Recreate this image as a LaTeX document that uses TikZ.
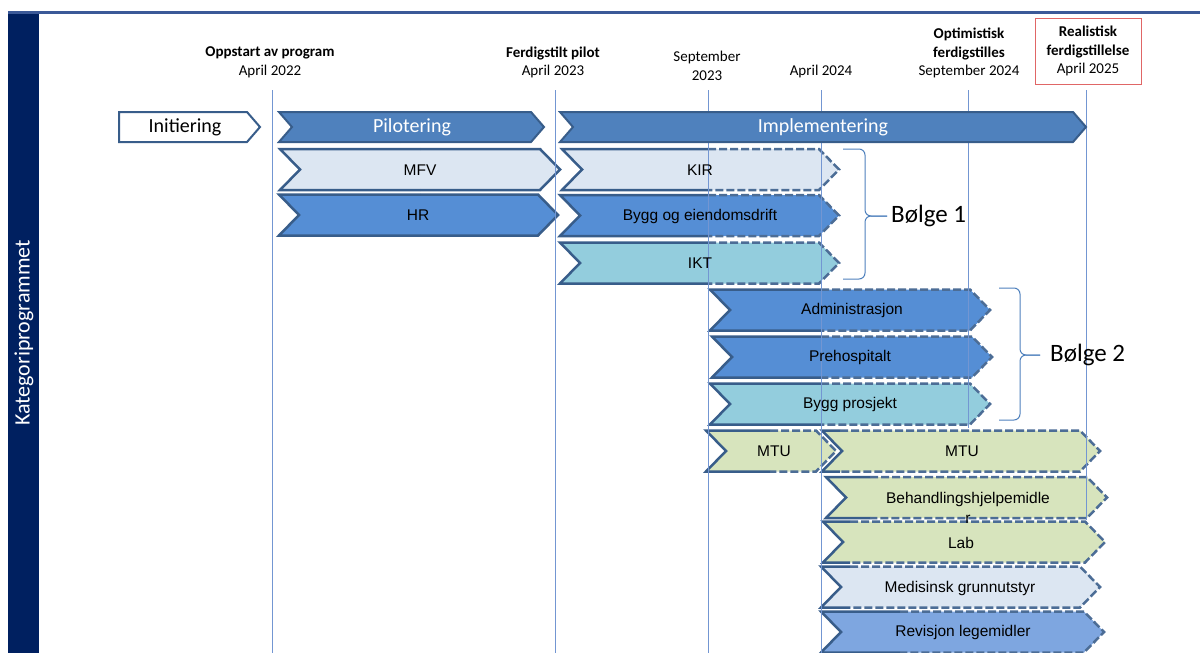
\documentclass[tikz,border=0pt]{standalone}
\usepackage{fontspec}
\setmainfont{Carlito}
\newfontfamily\arialfont{Liberation Sans}

\definecolor{barnavy}{RGB}{0,32,96}
\definecolor{topline}{RGB}{59,89,152}
\definecolor{chevedge}{RGB}{56,93,138}
\definecolor{pilotfill}{RGB}{79,129,189}
\definecolor{lightfill}{RGB}{220,230,242}
\definecolor{midfill}{RGB}{85,142,213}
\definecolor{tealfill}{RGB}{147,205,221}
\definecolor{greenfill}{RGB}{215,228,189}
\definecolor{revfill}{RGB}{126,166,224}
\definecolor{gridline}{RGB}{115,150,210}
\definecolor{redbox}{RGB}{224,102,102}
\definecolor{bracecol}{RGB}{79,129,189}

\tikzset{
  chevline/.style={draw=chevedge, line width=2.5pt},
  chevdash/.style={chevline, draw=chevedge!90, dash pattern=on 8pt off 3pt},
  datoline/.style={draw=gridline, line width=1pt},
  hdr/.style={align=center, font=\fontsize{15}{18.5}\selectfont, inner sep=0pt},
  fase/.style={font=\fontsize{20}{24}\selectfont},
  lbl/.style={font=\arialfont\fontsize{15.5}{20}\selectfont},
  bracel/.style={draw=bracecol, line width=1pt, rounded corners=6pt},
  bolge/.style={font=\fontsize{25}{30}\selectfont, anchor=west, inner sep=0pt}
}

\newcommand{\chevh}{20.5}
\newcommand{\chevd}{20}
% #1 left x, #2 tip x, #3 middle y, #4 fill, #5 x where the dashes start, #6 style of the right part
\newcommand{\chevshape}[6]{%
  \fill[#4] (#1,{#3-\chevh}) -- ({#2-\chevd},{#3-\chevh}) -- (#2,#3)
    -- ({#2-\chevd},{#3+\chevh}) -- (#1,{#3+\chevh}) -- ({#1+\chevd},#3) -- cycle;
  \draw[chevline] (#5,{#3-\chevh}) -- (#1,{#3-\chevh}) -- ({#1+\chevd},#3)
    -- (#1,{#3+\chevh}) -- (#5,{#3+\chevh});
  \draw[#6] (#5,{#3-\chevh}) -- ({#2-\chevd},{#3-\chevh}) -- (#2,#3)
    -- ({#2-\chevd},{#3+\chevh}) -- (#5,{#3+\chevh});
}

\begin{document}
\begin{tikzpicture}[x=1pt, y=-1pt]
\useasboundingbox (0,0) rectangle (1200,653);
\fill[white] (0,0) rectangle (1200,653);
\fill[barnavy] (8,12) rectangle (39,653);
\draw[topline, line width=2.5pt] (8,12.5) -- (1200,12.5);
\node[rotate=90, text=white, font=\fontsize{22}{26}\selectfont] (kategori) at (24,333) {Kategoriprogrammet};

% dates
\node[hdr] (oppstart) at (270,62.5) {\textbf{Oppstart av program}\\April 2022};
\node[hdr] (ferdigpilot) at (553,62.5) {\textbf{Ferdigstilt pilot}\\April 2023};
\node[hdr] (sep23) at (707,66) {September\\2023};
\node[hdr] (apr24) at (821,71.5) {April 2024};
\node[hdr] (optimistisk) at (969,53) {\textbf{Optimistisk}\\\textbf{ferdigstilles}\\September 2024};
\node[hdr, draw=redbox, line width=1pt, minimum width=106pt, minimum height=66pt] (realistisk) at (1088,51) {\textbf{Realistisk}\\\textbf{ferdigstillelse}\\April 2025};

% bolge 1
\chevshape{280}{560}{169.5}{lightfill}{420}{chevline}
\chevshape{279}{558}{215}{midfill}{420}{chevline}
\chevshape{562}{839}{169.5}{lightfill}{708}{chevdash}
\chevshape{560}{839}{215.5}{midfill}{708}{chevdash}
\chevshape{560}{839}{263}{tealfill}{708}{chevdash}
% bolge 2
\chevshape{710}{990}{310}{midfill}{821}{chevdash}
\chevshape{712}{992}{357}{midfill}{821}{chevdash}
\chevshape{710}{990}{404}{tealfill}{821}{chevdash}
% MTU
\chevshape{706}{836}{451}{greenfill}{770}{chevdash}
\chevshape{822}{1100}{451}{greenfill}{840}{chevdash}
\chevshape{826}{1107}{497.5}{greenfill}{870}{chevdash}
\chevshape{823}{1105}{542}{greenfill}{850}{chevdash}
\chevshape{821}{1100}{587}{lightfill}{850}{chevdash}
\chevshape{821}{1104}{632}{revfill}{900}{chevdash}

\foreach \dx/\yend in {272/653, 555/653, 708/653, 821/653, 968/428, 1086/520}
  \draw[datoline] (\dx,90) -- (\dx,\yend);

\begin{scope}
\def\chevh{15}\def\chevd{13}
\tikzset{chevline/.style={draw=chevedge, line width=2pt}}
\filldraw[fill=white, chevline] (119,112) -- (247,112) -- (260,127) -- (247,142) -- (119,142) -- cycle;
\chevshape{279}{544}{127}{pilotfill}{400}{chevline}
\chevshape{560}{1086}{127}{pilotfill}{800}{chevline}
\end{scope}

\node[fase] (initiering) at (185,127) {Initiering};
\node[fase, text=white] (pilotering) at (412,127) {Pilotering};
\node[fase, text=white] (implementering) at (823,127) {Implementering};

\node[lbl] (mfv) at (420,170) {MFV};
\node[lbl] (hr) at (418,215.5) {HR};
\node[lbl] (kir) at (700,170) {KIR};
\node[lbl] (byggdrift) at (700,216) {Bygg og eiendomsdrift};
\node[lbl] (ikt) at (700,263.5) {IKT};
\node[lbl] (admin) at (852,310.5) {Administrasjon};
\node[lbl] (prehosp) at (850,357.5) {Prehospitalt};
\node[lbl] (byggprosjekt) at (850,404) {Bygg prosjekt};
\node[lbl] (mtuA) at (774,451.5) {MTU};
\node[lbl] (mtuB) at (962,451.5) {MTU};
\node[lbl, align=center] (behandling) at (968,508) {Behandlingshjelpemidle\\r};
\node[lbl] (lab) at (961,542.5) {Lab};
\node[lbl] (medgrunn) at (960,588) {Medisinsk grunnutstyr};
\node[lbl] (revisjon) at (963,632.5) {Revisjon legemidler};

\node[bolge] (bolge1) at (891,216) {Bølge 1};
\node[bolge] (bolge2) at (1050,355) {Bølge 2};
\draw[bracel] (843,149) -- (865,149) -- (865,216) -- ([xshift=-4pt]bolge1.west);
\draw[bracel] (843,279) -- (865,279) -- (865,216) -- ([xshift=-4pt]bolge1.west);
\draw[bracel] (999,288) -- (1020,288) -- (1020,355) -- ([xshift=-10pt]bolge2.west);
\draw[bracel] (999,420) -- (1020,420) -- (1020,355) -- ([xshift=-10pt]bolge2.west);
\end{tikzpicture}
\end{document}
